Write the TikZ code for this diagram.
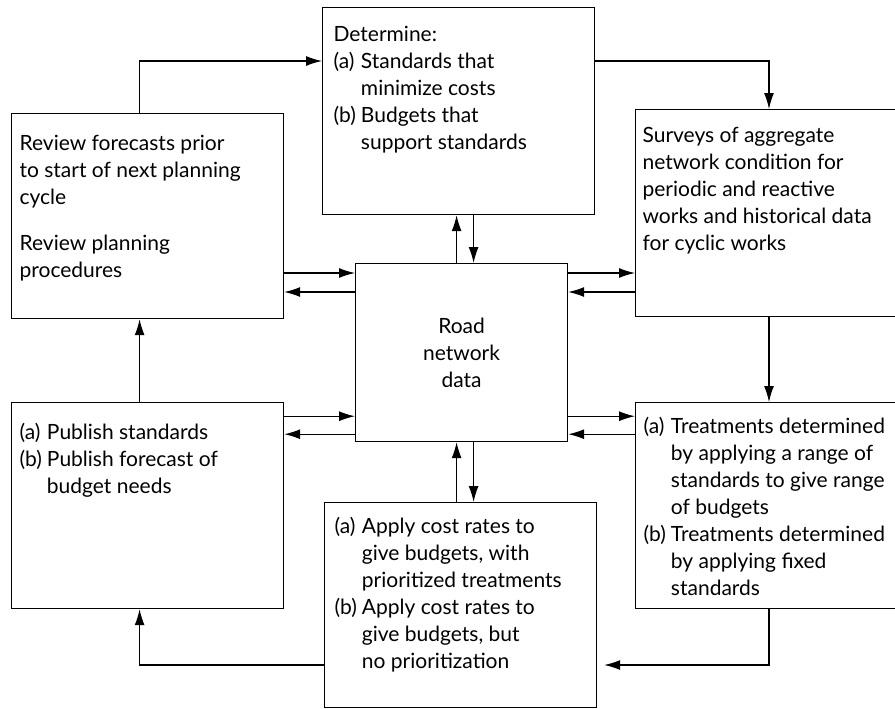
\documentclass[tikz,border=0pt]{standalone}
\usepackage{fontspec}
\setmainfont{Lato}
\usepackage{tikz}
\usetikzlibrary{arrows.meta}
\newcommand{\plainlines}[1]{\begin{tabular}[t]{@{}l@{}}#1\end{tabular}}
\newcommand{\itemlines}[1]{\begin{tabular}[t]{@{}l@{\hspace{2.5pt}}l@{}}#1\end{tabular}}
\tikzset{
  box/.style={draw, anchor=north west, inner sep=0pt},
  txt/.style={anchor=base west, inner sep=0pt},
  arr/.style={-{Latex[length=8pt,width=5pt]}}
}

\begin{document}
\begin{tikzpicture}[x=0.5pt, y=-0.5pt, line width=0.6pt,
    font=\fontsize{10.5}{13.5}\selectfont]
    \useasboundingbox (0,0) rectangle (895,708);
    % boxes
    \node[box, minimum width=136pt, minimum height=103.5pt] (determine) at (322,7) {};
    \node[box, minimum width=136pt, minimum height=102.5pt] (review) at (11,113) {};
    \node[box, minimum width=133pt, minimum height=103.5pt] (surveys) at (635,109) {};
    \node[box, minimum width=106pt, minimum height=89pt, align=center] (road) at (355,263) {Road\\network\\data};
    \node[box, minimum width=136pt, minimum height=103pt] (publish) at (11,402) {};
    \node[box, minimum width=136pt, minimum height=102.5pt] (apply) at (324,502) {};
    \node[box, minimum width=133pt, minimum height=103pt] (treat) at (635,402) {};
    % texts
    \node[txt] (determine-t) at ([xshift=5.5pt, yshift=-17pt]determine.north west)
      {\itemlines{\multicolumn{2}{@{}l@{}}{Determine:}\\(a) & Standards that\\ & minimize costs\\(b) & Budgets that\\ & support standards}};
    \node[txt] (review-t) at ([xshift=4pt, yshift=-18.5pt]review.north west)
      {\plainlines{Review forecasts prior\\to start of next planning\\cycle\\[9.5pt]Review planning\\procedures}};
    \node[txt] (surveys-t) at ([xshift=3.5pt, yshift=-16.5pt]surveys.north west)
      {\plainlines{Surveys of aggregate\\network condition for\\periodic and reactive\\works and historical data\\for cyclic works}};
    \node[txt] (publish-t) at ([xshift=4pt, yshift=-18.5pt]publish.north west)
      {\itemlines{(a) & Publish standards\\(b) & Publish forecast of\\ & budget needs}};
    \node[txt] (apply-t) at ([xshift=5pt, yshift=-15.5pt]apply.north west)
      {\itemlines{(a) & Apply cost rates to\\ & give budgets, with\\ & prioritized treatments\\(b) & Apply cost rates to\\ & give budgets, but\\ & no prioritization}};
    \node[txt] (treat-t) at ([xshift=4pt, yshift=-15.5pt]treat.north west)
      {\itemlines{(a) & Treatments determined\\ & by applying a range of\\ & standards to give range\\ & of budgets\\(b) & Treatments determined\\ & by applying fixed\\ & standards}};
    % connector points
    \coordinate (dt) at ([yshift=-27pt]determine.north west);
    \coordinate (sv) at ([xshift=67pt]surveys.north west);
    \coordinate (ap) at ([yshift=-81.5pt]apply.north west);
    \coordinate (rw1) at ([yshift=-5pt]road.north west);
    \coordinate (rw2) at ([yshift=-14.5pt]road.north west);
    \coordinate (rw3) at ([yshift=13pt]road.south west);
    \coordinate (rw4) at ([yshift=4pt]road.south west);
    \coordinate (rn1) at ([xshift=-2.5pt]road.north);
    \coordinate (rn2) at ([xshift=6pt]road.north);
    % outer loop
    \draw[arr] ([xshift=-4pt]review.north) |- (dt);
    \draw[arr] (dt -| determine.east) -| (sv);
    \draw[arr] (sv |- surveys.south) -- (sv |- treat.north);
    \draw[arr, shorten >=3.5pt] (sv |- treat.south) |- (ap -| apply.east);
    \draw[arr] (ap) -| ([xshift=-4pt]publish.south);
    \draw[arr] ([xshift=-4pt]publish.north) -- ([xshift=-4pt]review.south);
    % to and from the road network data
    \draw[arr] (review.east |- rw1) -- (rw1);
    \draw[arr] (rw2) -- (review.east |- rw2);
    \draw[arr] (rw1 -| road.east) -- (rw1 -| surveys.west);
    \draw[arr] (rw2 -| surveys.west) -- (rw2 -| road.east);
    \draw[arr] (publish.east |- rw3) -- (rw3);
    \draw[arr] (rw4) -- (publish.east |- rw4);
    \draw[arr] (rw3 -| road.east) -- (rw3 -| treat.west);
    \draw[arr] (rw4 -| treat.west) -- (rw4 -| road.east);
    \draw[arr] (rn1) -- (rn1 |- determine.south);
    \draw[arr] (rn2 |- determine.south) -- (rn2);
    \draw[arr] (rn1 |- apply.north) -- (rn1 |- road.south);
    \draw[arr] (rn2 |- road.south) -- (rn2 |- apply.north);
  \end{tikzpicture}
\end{document}
